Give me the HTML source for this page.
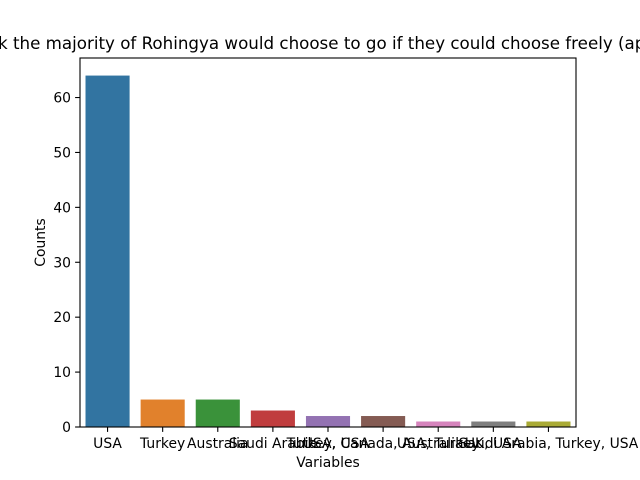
<!DOCTYPE html>
<html><head><meta charset="utf-8"><style>body{margin:0;background:#fff}svg{display:block;font-family:"DejaVu Sans","Liberation Sans",sans-serif}</style></head>
<body>
<svg id="c" width="640" height="480" xmlns="http://www.w3.org/2000/svg"></svg>
<script>
const categories=["USA","Turkey","Australia","Saudi Arabia","Turkey, USA","USA, Canada, Australia","USA, Turkey","UK, USA","Saudi Arabia, Turkey, USA"];
const counts=[64,5,5,3,2,2,1,1,1];
const colors=["#3274a1","#e1812c","#3a923a","#c03d3e","#9372b2","#845b53","#d684bd","#7f7f7f","#a9aa35"];
const yTicks=[0,10,20,30,40,50,60];
const svg=document.getElementById('c');
const NS="http://www.w3.org/2000/svg";
const L=80,R=576,T=58,B=427,ymax=67.2;
const y=v=>B-(v/ymax)*(B-T);
const slot=(R-L)/categories.length;
const x=i=>L+slot*(i+0.5);
function mk(t,a,p){const e=document.createElementNS(NS,t);for(const k in a)e.setAttribute(k,a[k]);(p||svg).appendChild(e);return e;}
categories.forEach((c,i)=>{
 const r=mk('rect',{x:x(i)-slot*0.4,y:y(counts[i]),width:slot*0.8,height:B-y(counts[i]),fill:colors[i]});
 
 
 const tk=mk('line',{x1:x(i),x2:x(i),y1:B,y2:B+4.9,stroke:'#000','stroke-width':1.1});
 
 
 const t=mk('text',{x:x(i),y:B+21,'text-anchor':'middle','font-size':13.9});
 t.textContent=c;
 
 
});
yTicks.forEach(v=>{
 const tk=mk('line',{x1:L-4.9,x2:L,y1:y(v),y2:y(v),stroke:'#000','stroke-width':1.1});
 
 
 const t=mk('text',{x:L-9,y:y(v)+5,'text-anchor':'end','font-size':13.9});
 t.textContent=v;
 
 
});
const fr=mk('rect',{x:L,y:T,width:R-L,height:B-T,fill:'none',stroke:'#000','stroke-width':1.1});


const xt=mk('text',{x:(L+R)/2,y:467,'text-anchor':'middle','font-size':13.9});xt.textContent='Variables';


const yt=mk('text',{x:45,y:(T+B)/2,'text-anchor':'middle','font-size':13.9,transform:`rotate(-90 45 ${(T+B)/2})`});yt.textContent='Counts';


const tt=mk('text',{x:(L+R)/2-26,y:49,'text-anchor':'middle','font-size':16.7});tt.textContent='Where do you think the majority of Rohingya would choose to go if they could choose freely (approximately)?';


</script>
</body></html>
